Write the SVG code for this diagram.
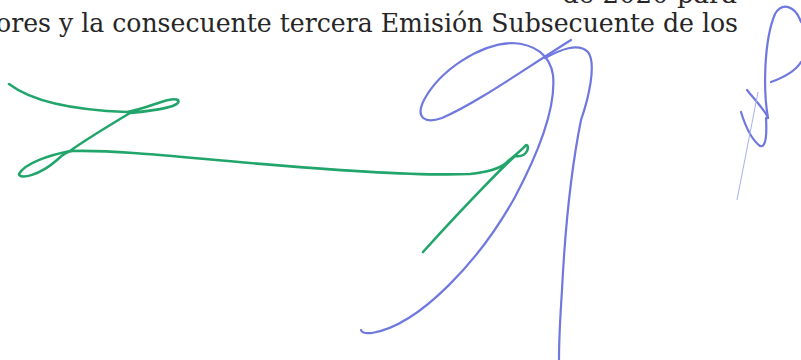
<svg xmlns="http://www.w3.org/2000/svg" width="801" height="360" viewBox="0 0 801 360">
<style>
.txt{font-family:"DejaVu Serif","Liberation Serif",serif;font-size:26px;fill:#262626}
.g{fill:none;stroke:#22a56a;stroke-width:2.6;stroke-linecap:round;stroke-linejoin:round}
.b{fill:none;stroke:#6f78de;stroke-width:2.2;stroke-linecap:round;stroke-linejoin:round}
</style>
<rect width="801" height="360" fill="#ffffff"/>
<g id="text">
<text class="txt" x="737" y="3" text-anchor="end">de 2020 para</text>
<text class="txt" x="-4" y="32" textLength="742" lengthAdjust="spacingAndGlyphs">ores y la consecuente tercera Emisión Subsecuente de los</text>
</g>
<g id="signature-green">
<path class="g" d="M9 84 C30 100 70 110 127 112 C150 108 170 96 178 100 C182 106 160 110 130 113 C110 125 85 140 70 151 C50 155 25 163 19 174 C20 180 40 175 57 160 C63 154 68 151 73 151 C120 150 180 157 250 163 C330 170 420 176 470 174 C490 172 500 168 506 163 C515 155 522 150 526 145 C530 145 528 158 515 156 C505 165 470 200 423 252"/>
</g>
<g id="signature-blue">
<path class="b" d="M361 330 Q362 334 372 333 C420 325 480 260 515 197 C540 150 556 105 553 75 C550 55 535 44 512 43 C480 44 440 70 424 100 C415 118 425 124 442 118 C475 104 520 72 571 40"/>
<path class="b" d="M545 58 C560 50 578 42 588 52 C597 64 588 100 581 120 C571 170 565 230 562 290 C560 320 559 345 559 360"/>
</g>
<g id="initials-blue">
<path class="b" d="M768 118 C763 90 764 40 775 14 C782 2 795 5 801 22"/>
<path class="b" d="M801 62 C795 72 782 78 771 82"/>
<path class="b" d="M747 90 C755 100 765 110 768 118"/>
<path class="b" d="M741 112 C745 125 752 140 760 146 C766 148 767 135 766 118"/>
<path d="M758 92 L737 200" fill="none" stroke="#a9aff0" stroke-width="1"/>
</g>
</svg>
